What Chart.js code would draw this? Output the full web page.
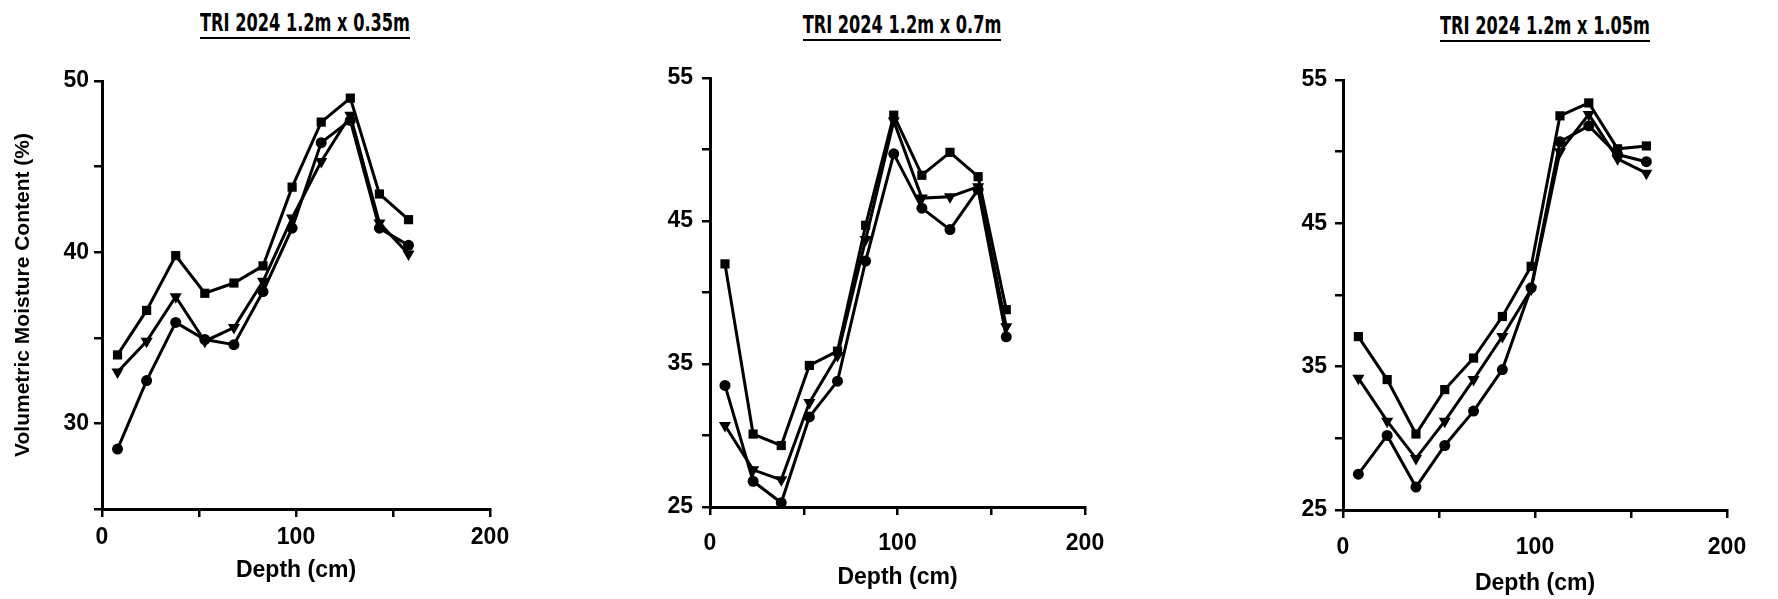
<!DOCTYPE html>
<html>
<head>
<meta charset="utf-8">
<title>TRI 2024 moisture profiles</title>
<script src="https://cdn.jsdelivr.net/npm/chart.js@4.4.1/dist/chart.umd.min.js"></script>
<style>
  body { margin: 0; background: #fff; width: 1778px; height: 599px; overflow: hidden; position: relative; }
  canvas { position: absolute; top: 0; }
  .title {
    position: absolute; width: 400px; text-align: center;
    font-family: "DejaVu Sans Condensed", "DejaVu Sans", sans-serif;
    font-weight: bold; font-size: 24px; line-height: 24px; color: #000;
    transform: scaleX(0.75); transform-origin: center top; white-space: pre;
  }
  .title span { display: inline-block; border-bottom: 2.5px solid #000; padding-bottom: 2px; }
</style>
</head>
<body>
<div class="title" id="t1" style="left:105px; top:11px;"><span></span></div>
<div class="title" id="t2" style="left:702px; top:13px;"><span></span></div>
<div class="title" id="t3" style="left:1345px; top:14px;"><span></span></div>
<canvas id="c1" width="600" height="599" style="left:0px"></canvas>
<canvas id="c2" width="600" height="599" style="left:600px"></canvas>
<canvas id="c3" width="578" height="599" style="left:1200px"></canvas>
<script>
const panelTitles = ["TRI 2024 1.2m x 0.35m", "TRI 2024 1.2m x 0.7m", "TRI 2024 1.2m x 1.05m"];
const depth = [8, 23, 38, 53, 68, 83, 98, 113, 128, 143, 158];
const xTickLabels = [0, 100, 200];

// 1.2m x 0.35m
const narrowSquare = [34.0, 36.6, 39.8, 37.6, 38.2, 39.2, 43.8, 47.6, 49.0, 43.4, 41.9];
const narrowTriangle = [33.0, 34.8, 37.4, 34.8, 35.6, 38.3, 42.0, 45.3, 48.0, 41.7, 39.9];
const narrowCircle = [28.5, 32.5, 35.9, 34.9, 34.6, 37.7, 41.4, 46.4, 47.7, 41.4, 40.4];
const narrowYLabels = [30, 40, 50];

// 1.2m x 0.7m
const midSquare = [42.0, 30.1, 29.3, 34.9, 35.9, 44.7, 52.4, 48.2, 49.8, 48.1, 38.8];
const midTriangle = [30.7, 27.6, 26.9, 32.3, 35.6, 43.7, 52.0, 46.6, 46.7, 47.4, 37.6];
const midCircle = [33.5, 26.8, 25.3, 31.3, 33.8, 42.2, 49.7, 45.9, 44.4, 47.2, 36.9];

// 1.2m x 1.05m
const wideSquare = [37.1, 34.1, 30.3, 33.4, 35.6, 38.5, 42.0, 52.5, 53.4, 50.2, 50.4];
const wideTriangle = [34.2, 31.2, 28.6, 31.2, 34.1, 37.1, 40.4, 50.0, 52.6, 49.5, 48.5];
const wideCircle = [27.5, 30.2, 26.6, 29.5, 31.9, 34.8, 40.5, 50.7, 51.8, 49.8, 49.3];
const wideYLabels = [25, 35, 45, 55];

panelTitles.forEach((t, i) => {
  document.querySelector('#t' + (i + 1) + ' span').textContent = t;
});

const fontFamily = "'Liberation Sans', Arial, sans-serif";
const tickFont = { family: fontFamily, weight: 'bold', size: 23 };
const xTitleFont = { family: fontFamily, weight: 'bold', size: 23 };
const yTitleFont = { family: fontFamily, weight: 'bold', size: 21 };

function series(values, style, radius, rotation) {
  return {
    data: values.map((v, i) => ({ x: depth[i], y: v })),
    borderColor: '#000',
    backgroundColor: '#000',
    borderWidth: 3,
    pointStyle: style,
    pointRadius: radius,
    pointRotation: rotation || 0,
    pointBorderWidth: 0,
    tension: 0
  };
}

function drawPanel(id, p) {
  new Chart(document.getElementById(id), {
    type: 'line',
    data: {
      datasets: [
        series(p.square, 'rect', 6.5),
        series(p.triangle, 'triangle', 7, 180),
        series(p.circle, 'circle', 5.5)
      ]
    },
    options: {
      responsive: false,
      animation: false,
      layout: { padding: { top: p.top, right: p.right, bottom: 0, left: 0 } },
      plugins: { legend: { display: false }, tooltip: { enabled: false } },
      scales: {
        x: {
          type: 'linear', min: 0, max: 200,
          ticks: {
            stepSize: 50, autoSkip: false, maxRotation: 0, color: '#000', font: tickFont,
            padding: p.xPad,
            callback: v => xTickLabels.includes(v) ? String(v) : ''
          },
          grid: { drawOnChartArea: false, drawTicks: true, tickLength: 8, color: '#000', lineWidth: 2.5 },
          border: { display: true, color: '#000', width: 3 },
          title: { display: true, text: 'Depth (cm)', color: '#000', font: xTitleFont, padding: { top: 0, bottom: p.xTitlePad } },
          afterFit: s => { s.height = p.xHeight; }
        },
        y: {
          min: 25, max: p.yMax,
          ticks: {
            stepSize: 5, autoSkip: false, color: '#000', font: tickFont, padding: p.yPad,
            callback: v => p.yLabels.includes(v) ? String(v) : ''
          },
          grid: { drawOnChartArea: false, drawTicks: true, tickLength: 8, color: '#000', lineWidth: 2.5 },
          border: { display: true, color: '#000', width: 3 },
          title: {
            display: !!p.yTitle, text: p.yTitle || '', color: '#000', font: yTitleFont,
            padding: { top: 11, bottom: 0 }
          },
          afterFit: s => { s.width = p.yWidth; }
        }
      }
    }
  });
}

drawPanel('c1', {
  square: narrowSquare, triangle: narrowTriangle, circle: narrowCircle,
  yMax: 50, yLabels: narrowYLabels, yTitle: 'Volumetric Moisture Content (%)',
  top: 81, right: 110, yWidth: 102, xHeight: 90, xPad: 7, yPad: 5, xTitlePad: 15
});
drawPanel('c2', {
  square: midSquare, triangle: midTriangle, circle: midCircle,
  yMax: 55, yLabels: wideYLabels,
  top: 78, right: 115, yWidth: 110, xHeight: 92, xPad: 15, yPad: 9, xTitlePad: 8
});
drawPanel('c3', {
  square: wideSquare, triangle: wideTriangle, circle: wideCircle,
  yMax: 55, yLabels: wideYLabels,
  top: 80, right: 51, yWidth: 143, xHeight: 89, xPad: 16, yPad: 8, xTitlePad: 2
});
</script>
</body>
</html>
